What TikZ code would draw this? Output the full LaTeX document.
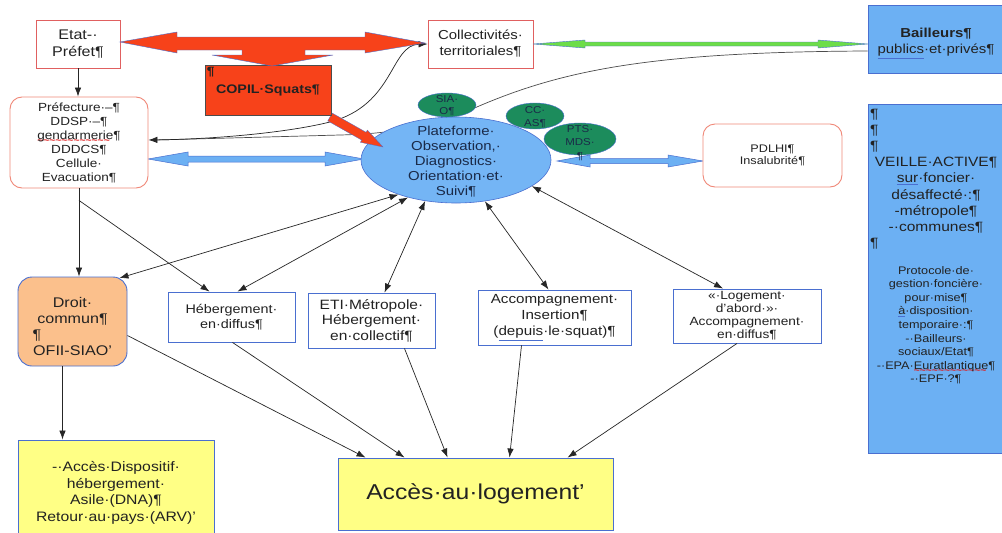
\documentclass[tikz,border=0pt]{standalone}
\usepackage{fontspec}
\setmainfont[FakeStretch=1.15]{Liberation Sans}
\usetikzlibrary{shapes.geometric,arrows.meta,calc}
\pgfdeclarelayer{back}
\pgfsetlayers{back,main}
\definecolor{redb}{HTML}{E06060}
\definecolor{salmon}{HTML}{F08878}
\definecolor{blueb}{HTML}{4A6FD0}
\definecolor{lblue}{HTML}{6CB0F3}
\definecolor{pblue}{HTML}{74B5F5}
\definecolor{dgreen}{HTML}{1C8C5C}
\definecolor{orangef}{HTML}{FBC08C}
\definecolor{yellowf}{HTML}{FFFF85}
\definecolor{copilred}{HTML}{F7421A}
\definecolor{greenar}{HTML}{6CDD48}
\definecolor{txt}{HTML}{222222}
\definecolor{platxt}{HTML}{1A2A48}
\definecolor{wavered}{HTML}{E01818}
\newcommand{\fsz}[2]{\fontsize{#1}{#2}\selectfont}
\newcommand{\bul}[1]{\textcolor{blueb}{\underline{\textcolor{txt}{#1}}}}
\newsavebox{\wvbox}
\newcommand{\rwave}[1]{\sbox{\wvbox}{#1}\rlap{\raisebox{-4.5pt}[0pt][0pt]{\color{wavered}\fontsize{9}{9}\bfseries\leaders\hbox{\char"007E}\hskip\wd\wvbox}}\usebox{\wvbox}}
\newcommand{\lpil}{\makebox[\linewidth][l]{¶}}
\begin{document}
\begin{tikzpicture}[x=1pt,y=-1pt,
  every node/.style={inner sep=0pt,text=txt},
  redbox/.style={draw=redb,line width=0.9pt,fill=white,align=center},
  salbox/.style={draw=salmon,line width=0.9pt,fill=white,rounded corners=12pt,align=center},
  bluebox/.style={draw=blueb,line width=0.9pt,fill=white,align=center},
  greenell/.style={ellipse,draw=blueb,line width=0.4pt,fill=dgreen},
  elltext/.style={align=center,text=platxt},
  arr/.style={draw=black!85,line width=0.7pt,-{Latex[length=9pt,width=6.5pt]}},
  darr/.style={draw=black!85,line width=0.7pt,{Latex[length=9pt,width=6.5pt]}-{Latex[length=9pt,width=6.5pt]}},
  bluearrow/.style={fill=lblue,draw=blueb,line width=0.5pt},
]
\useasboundingbox (0,0) rectangle (1002,533);

% ---------- boxes ----------
\node[redbox,minimum width=84pt,minimum height=48pt,font=\fsz{14}{17}] (etat) at (78,44) {Etat-·\\Préfet¶};
\node[salbox,minimum width=138pt,minimum height=91pt,font=\fsz{11.8}{14}] (pref) at (79,142.5) {Préfecture·–¶\\DDSP·–¶\\\rwave{gendarmerie}¶\\DDDCS¶\\Cellule·\\Evacuation¶};
\node[redbox,minimum width=105pt,minimum height=48pt,font=\fsz{13}{16}] (coll) at (480.5,44) {Collectivités·\\territoriales¶};
\node[draw=blueb,fill=lblue,line width=0.8pt,minimum width=136pt,minimum height=68pt,align=center,font=\fsz{13}{16}] (bail) at (936,39) {\rule{0pt}{18pt}\textbf{Bailleurs¶}\\\bul{publics}·et·privés¶};

\node[ellipse,draw=blueb,line width=0.6pt,fill=pblue,minimum width=190pt,minimum height=86pt] (plat) at (456,160) {};
\node[elltext,font=\fsz{13}{15}] (platT) at (456,162) {Plateforme·\\Observation,·\\Diagnostics·\\Orientation·et·\\Suivi¶};

\node[greenell,minimum width=58pt,minimum height=24pt] (sia) at (447,105) {};
\node[elltext,font=\fsz{10}{12}] (siaT) at (447,106) {SIA·\\O¶};
\node[greenell,minimum width=58pt,minimum height=26pt] (ccas) at (535,116) {};
\node[elltext,font=\fsz{10}{13}] (ccasT) at (535,117) {CC·\\AS¶};
\node[greenell,minimum width=72pt,minimum height=32pt] (pts) at (580,139) {};
\node[elltext,font=\fsz{10}{13.5}] (ptsT) at (580,143) {PTS·\\MDS·\\¶};

\node[salbox,minimum width=139pt,minimum height=63pt,font=\fsz{11}{12.5}] (pdlhi) at (772.5,155.5) {PDLHI¶\\Insalubrité¶};

\node[draw=blueb,fill=lblue,line width=0.8pt,minimum width=136pt,minimum height=349pt] (veille) at (936,278.5) {};
\node[anchor=north,text width=132pt,align=center,font=\fsz{13.5}{16.2}] (vtop) at ($(veille.north)+(0,5)$) {\lpil\\\lpil\\\lpil\\VEILLE·ACTIVE¶\\\bul{sur}·foncier·\\désaffecté·:¶\\-métropole¶\\-·communes¶\\\lpil};
\node[anchor=north,text width=132pt,align=center,font=\fsz{11}{13.6}] (vbot) at (936,266) {Protocole·de·\\gestion·foncière·\\pour·mise¶\\\bul{à}·disposition·\\temporaire·:¶\\-·Bailleurs·\\sociaux/Etat¶\\-·EPA·\rwave{Euratlantique}¶\\-·EPF·?¶};

% red pointer COPIL -> plateforme (drawn before COPIL box)
\filldraw[fill=copilred,draw=blueb,line width=0.3pt] (332.2,113.1) -- (366.1,132.3) -- (367.4,130.1) -- (383,147) -- (360.4,142.3) -- (361.7,140.1) -- (327.8,120.9) -- cycle;

\node[draw=black!70,line width=0.8pt,fill=copilred,minimum width=126pt,minimum height=50pt,font=\bfseries\fsz{12.4}{15}] (copil) at (268,90) {COPIL·Squats¶};
\node[anchor=north west,font=\bfseries\fsz{12}{14}] (copilp) at ($(copil.north west)+(2,2)$) {¶};

\node[draw=blueb,fill=orangef,line width=0.9pt,rounded corners=14pt,minimum width=109pt,minimum height=89pt,align=center,text width=80pt,font=\fsz{14}{16}] (droit) at (72.5,321.5) {\rule{0pt}{20.5pt}Droit·\\commun¶\\\lpil\\OFII-SIAO'};
\node[bluebox,minimum width=127pt,minimum height=50pt,font=\fsz{12.5}{14.5}] (hebd) at (231.5,317) {Hébergement·\\en·diffus¶};
\node[bluebox,minimum width=127pt,minimum height=55pt,font=\fsz{13.5}{15.5}] (eti) at (371.5,320.5) {ETI·Métropole·\\Hébergement·\\en·collectif¶};
\node[bluebox,minimum width=153pt,minimum height=55pt,font=\fsz{13.2}{16}] (accins) at (554.5,317.5) {Accompagnement·\\Insertion¶\\(\bul{depuis}·le·squat)¶};
\node[bluebox,minimum width=148pt,minimum height=54pt,font=\fsz{11.9}{13}] (logab) at (747,316) {«·Logement·\\d'abord·»·\\Accompagnement·\\en·diffus¶};

\node[draw=blueb,fill=yellowf,line width=0.9pt,minimum width=196pt,minimum height=94pt,align=center,font=\fsz{13.7}{16.5}] (asile) at (116,487) {\rule{0pt}{22pt}-·Accès·Dispositif·\\hébergement·\\Asile·(DNA)¶\\Retour·au·pays·(ARV)'};
\node[draw=blueb,fill=yellowf,line width=0.9pt,minimum width=275pt,minimum height=72pt,font=\fsz{21.5}{24}] (acces) at (475.5,494) {Accès·au·logement'};

% ---------- background connectors ----------
\begin{pgfonlayer}{back}
\fill[white] (0,0) rectangle (1002,533);
\draw[black!70,line width=0.7pt] ($(bail.west)+(0,12)$) .. controls (650,52) and (560,70) .. (470,110) .. controls (420,130) and (380,134) .. (340,135) -- ($(pref.east)+(8,-2.5)$);
\draw[darr] (coll.west) .. controls (390,45) and (395,105) .. (330,122) .. controls (290,132) and (220,139) .. ($(pref.east)+(0,-2.5)$);
% blue double arrows
\filldraw[bluearrow] (148,159) -- (188,152) -- (188,156) -- (325,156) -- (325,152) -- (364,159) -- (325,166) -- (325,162) -- (188,162) -- (188,166) -- cycle;
\filldraw[bluearrow] (557,161) -- (590,155) -- (590,158.5) -- (668,158.5) -- (668,155) -- (703,161) -- (668,167) -- (668,163.5) -- (590,163.5) -- (590,167) -- cycle;
\end{pgfonlayer}

% green double arrow collectivites <-> bailleurs
\filldraw[fill=greenar,draw=blueb,line width=0.4pt] (533,44) -- (585,40) -- (585,42) -- (818,42) -- (818,40) -- (868,44) -- (818,48) -- (818,46) -- (585,46) -- (585,48) -- cycle;

% red T arrow Etat <-> Collectivites, down to COPIL
\filldraw[fill=copilred,draw=blueb,line width=0.4pt] (120,42) -- (177,32) -- (177,37) -- (365,37) -- (365,32) -- (425,43) -- (365,53) -- (365,50) -- (305,50) -- (305,55) -- (333,55) -- (272,66) -- (212,55) -- (242,55) -- (242,50) -- (177,50) -- (177,53) -- cycle;

% ---------- black connectors ----------
\draw[arr] (etat.south) -- (etat.south |- pref.north);
\draw[arr] (pref.south) -- (pref.south |- droit.north);
\coordinate (br) at ($(pref.south)+(0,12)$);
\draw[arr] (br) -- ($(hebd.north)+(-22,0)$);
\draw[darr] (plat.211) -- ($(droit.north east)+(-8,1.5)$);
\draw[darr] (plat.218) -- ($(hebd.north)+(6,0)$);
\draw[darr] (plat.233) -- ($(eti.north)+(13,0)$);
\draw[darr] (plat.305) -- ($(accins.north)+(-6,0)$);
\draw[darr] (plat.341) -- ($(logab.north)+(-24,0)$);
\draw[arr] ($(droit.east)+(0,14)$) -- ($(acces.north west)+(28,0)$);
\draw[arr] ($(hebd.south)+(1,0)$) -- ($(acces.north west)+(67,0)$);
\draw[arr] ($(eti.south)+(33,0)$) -- ($(acces.north west)+(110,0)$);
\draw[arr] ($(accins.south)+(-33,0)$) -- ($(acces.north west)+(172,0)$);
\draw[arr] ($(logab.south)+(-10,0)$) -- ($(acces.north west)+(230,0)$);
\coordinate (ds) at ($(droit.south)+(-10,0)$);
\draw[arr] (ds) -- (ds |- asile.north);
\end{tikzpicture}
\end{document}
